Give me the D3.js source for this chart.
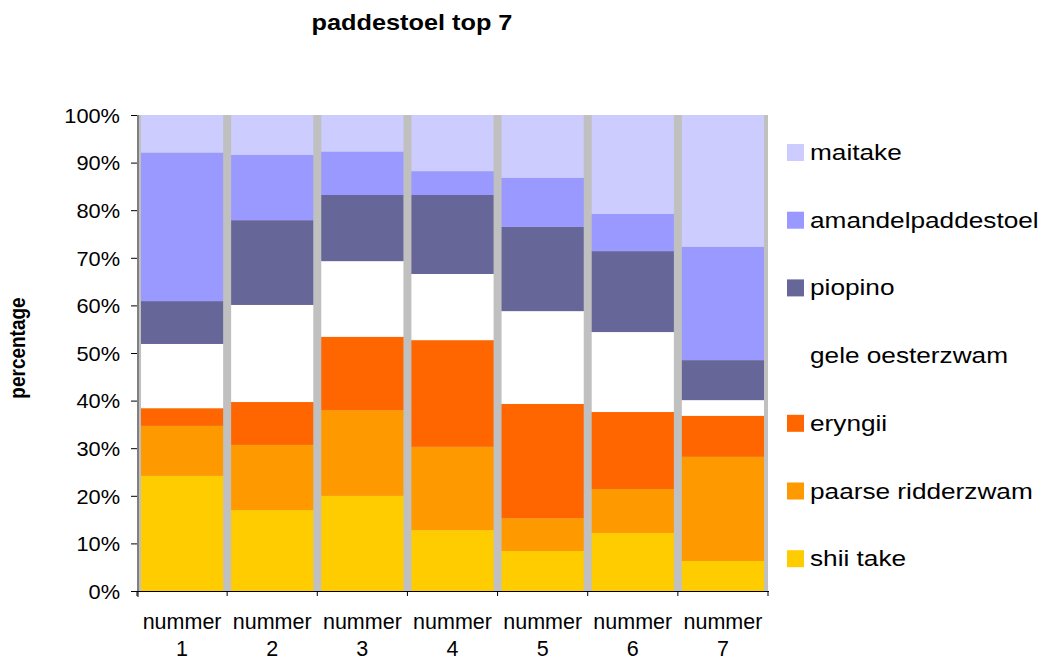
<!DOCTYPE html>
<html>
<head>
<meta charset="utf-8">
<script src="https://d3js.org/d3.v7.min.js"></script>
<style>
  body { margin: 0; background: #fff; }
  svg { display: block; font-family: Arial, "Liberation Sans", sans-serif; }
</style>
</head>
<body>
<svg id="chart" width="1045" height="662"></svg>
<script>
// data: share per mushroom (%), bottom to top
var categories = ["1", "2", "3", "4", "5", "6", "7"];
var shiiTake          = [24.2, 17.0, 20.0, 12.8,  8.4, 12.2,  6.3];
var paarseRidderzwam  = [10.5, 13.7, 18.0, 17.5,  6.9,  9.2, 21.9];
var eryngii           = [ 3.7,  9.0, 15.4, 22.4, 24.0, 16.2,  8.6];
var geleOesterzwam    = [13.5, 20.4, 15.9, 13.9, 19.5, 16.8,  3.3];
var piopino           = [ 9.0, 17.8, 13.9, 16.6, 17.7, 17.0,  8.4];
var amandelpaddestoel = [31.2, 13.7,  9.1,  5.0, 10.3,  7.8, 23.8];
var maitake           = [ 7.9,  8.4,  7.7, 11.8, 13.2, 20.8, 27.7];

var seriesNames = ["shii take", "paarse ridderzwam", "eryngii", "gele oesterzwam",
                   "piopino", "amandelpaddestoel", "maitake"];
var seriesValues = [shiiTake, paarseRidderzwam, eryngii, geleOesterzwam,
                    piopino, amandelpaddestoel, maitake];
var colors = ["#FFCC00", "#FF9900", "#FF6600", "#FFFFFF", "#666699", "#9999FF", "#CCCCFF"];
var yTicks = [0, 0.1, 0.2, 0.3, 0.4, 0.5, 0.6, 0.7, 0.8, 0.9, 1];

var rows = categories.map(function (c, i) {
  var r = { cat: c };
  seriesNames.forEach(function (s, j) { r[s] = seriesValues[j][i]; });
  return r;
});

var svg = d3.select("#chart");
var plotLeft = 137, plotRight = 768, plotTop = 115, plotBottom = 591;

var pad = 8 / 90.14;
var x = d3.scaleBand().domain(categories).range([plotLeft, plotRight])
  .paddingInner(pad).paddingOuter(pad / 2);
var y = d3.scaleLinear().domain([0, 1]).range([plotBottom, plotTop]);
var color = d3.scaleOrdinal().domain(seriesNames).range(colors);

var stack = d3.stack().keys(seriesNames).offset(d3.stackOffsetExpand);
var layers = stack(rows);

// plot background (shows as gray gaps between bars)
svg.append("rect")
  .attr("x", plotLeft).attr("y", plotTop)
  .attr("width", plotRight - plotLeft).attr("height", plotBottom - plotTop)
  .attr("fill", "#C0C0C0");

// bars
svg.append("g").selectAll("g")
  .data(layers)
  .enter().append("g")
  .attr("fill", function (d) { return color(d.key); })
  .selectAll("rect")
  .data(function (d) { return d; })
  .enter().append("rect")
  .attr("x", function (d) { return x(d.data.cat); })
  .attr("width", x.bandwidth())
  .attr("y", function (d) { return y(d[1]); })
  .attr("height", function (d) { return y(d[0]) - y(d[1]); });

// y axis
var yAxis = svg.append("g")
  .attr("transform", "translate(" + plotLeft + ",0)")
  .call(d3.axisLeft(y).tickValues(yTicks).tickFormat(d3.format(".0%")).tickSize(6));
yAxis.select(".domain").remove();
yAxis.selectAll("line").attr("stroke", "#000");
yAxis.selectAll("text")
  .attr("x", 0).attr("dy", "0.36em")
  .attr("transform", "translate(-17,0) scale(1.09,1)")
  .style("font-size", "20px").attr("fill", "#000");
svg.append("line")
  .attr("x1", plotLeft + 1).attr("x2", plotLeft + 1)
  .attr("y1", plotTop).attr("y2", plotBottom + 6)
  .attr("stroke", "#808080").attr("stroke-width", 2);

// x axis
svg.append("line")
  .attr("x1", plotLeft).attr("x2", plotRight + 1)
  .attr("y1", plotBottom + 0.5).attr("y2", plotBottom + 0.5)
  .attr("stroke", "#000");
var step = x.step();
svg.append("g").selectAll("line")
  .data(d3.range(categories.length + 1))
  .enter().append("line")
  .attr("x1", function (i) { return plotLeft + i * step; })
  .attr("x2", function (i) { return plotLeft + i * step; })
  .attr("y1", plotBottom).attr("y2", plotBottom + 5)
  .attr("stroke", "#000");

var xl = svg.append("g").selectAll("text")
  .data(categories)
  .enter().append("text")
  .attr("text-anchor", "middle")
  .style("font-size", "21.5px")
  .attr("transform", function (d) { return "translate(" + (x(d) + x.bandwidth() / 2) + ",0)"; });
xl.append("tspan").attr("x", 0).attr("y", 629).text("nummer");
xl.append("tspan").attr("x", 0).attr("y", 656).text(function (d) { return d; });

// title
svg.append("text")
  .attr("transform", "translate(412,30) scale(1.15,1)")
  .attr("text-anchor", "middle")
  .style("font-size", "22px").style("font-weight", "bold")
  .text("paddestoel top 7");

// y title
svg.append("text")
  .attr("transform", "translate(25,348) rotate(-90) scale(1,1.15)")
  .attr("text-anchor", "middle")
  .style("font-size", "19px").style("font-weight", "bold")
  .text("percentage");

// legend, top entry = last series
var legend = svg.append("g").selectAll("g")
  .data(seriesNames.slice().reverse())
  .enter().append("g")
  .attr("transform", function (d, i) { return "translate(787," + (152.5 + i * 67.7) + ")"; });
legend.append("rect")
  .attr("x", 0).attr("y", -8.5)
  .attr("width", 17).attr("height", 17)
  .attr("fill", function (d) { return color(d); });
legend.append("text")
  .attr("transform", "translate(23,7.5) scale(1.165,1)")
  .style("font-size", "22.5px")
  .text(function (d) { return d; });
</script>
</body>
</html>
